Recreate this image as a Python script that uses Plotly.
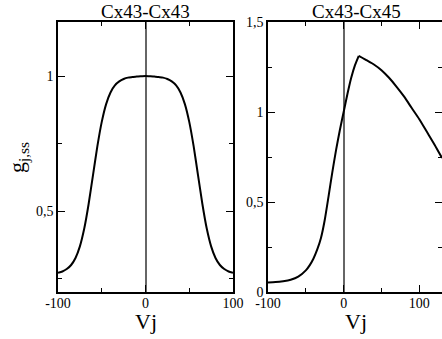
import plotly.graph_objects as go

# Left panel: Cx43-Cx43 steady-state conductance
v_left = [-100, -95, -90, -85, -80, -75, -70, -65, -60, -55, -50, -45, -40, -35, -30, -25, -20, -15, -10, -5,
          0, 5, 10, 15, 20, 25, 30, 35, 40, 45, 50, 55, 60, 65, 70, 75, 80, 85, 90, 95, 100]
g_left = [0.271, 0.276, 0.285, 0.300, 0.326, 0.369, 0.435, 0.526, 0.633, 0.740, 0.830, 0.896, 0.939, 0.965, 0.980,
          0.989, 0.994, 0.996, 0.998, 0.999,
          1.000, 0.999, 0.998, 0.996, 0.994, 0.989, 0.980, 0.965, 0.939, 0.896, 0.830, 0.740, 0.633, 0.526, 0.435,
          0.369, 0.326, 0.300, 0.285, 0.276, 0.271]

# Right panel: Cx43-Cx45 steady-state conductance
v_right = [-100, -90, -80, -70, -60, -50, -45, -40, -35, -30, -25, -20, -15, -10, -5, 0, 5, 10, 15, 20,
           25, 30, 40, 50, 60, 70, 80, 90, 100, 110, 120, 130]
g_right = [0.053, 0.055, 0.060, 0.068, 0.085, 0.120, 0.148, 0.185, 0.235, 0.300, 0.400, 0.530, 0.665, 0.790, 0.900,
           1.000, 1.100, 1.190, 1.260, 1.312,
           1.300, 1.288, 1.264, 1.232, 1.190, 1.140, 1.085, 1.022, 0.960, 0.890, 0.820, 0.745]

titles = ["Cx43-Cx43", "Cx43-Cx45"]
x_label = "Vj"
y_label = "g<sub>j,ss</sub>"

x_tickvals = [-100, 0, 100]
x_ticktext = ["-100", "0", "100"]
y1_tickvals = [0.5, 1]
y1_ticktext = ["0,5", "1"]
y2_tickvals = [0, 0.5, 1, 1.5]
y2_ticktext = ["0", "0,5", "1", "1,5"]

W, H = 442, 339
FONT = "Liberation Serif, Times New Roman, serif"

def px_x(p):
    return p / W

def px_y(p):
    return 1 - p / H

line_style = dict(color="black", width=2, shape="spline", smoothing=0.6)

fig = go.Figure()
fig.add_trace(go.Scatter(x=v_left, y=g_left, mode="lines", line=line_style,
                         xaxis="x", yaxis="y", showlegend=False, hoverinfo="skip"))
# the right curve has a sharp peak: draw the rising and falling branches separately
ipk = g_right.index(max(g_right))
fig.add_trace(go.Scatter(x=v_right[:ipk + 1], y=g_right[:ipk + 1], mode="lines", line=line_style,
                         xaxis="x2", yaxis="y2", showlegend=False, hoverinfo="skip"))
fig.add_trace(go.Scatter(x=v_right[ipk:], y=g_right[ipk:], mode="lines", line=line_style,
                         xaxis="x2", yaxis="y2", showlegend=False, hoverinfo="skip"))

minor_tick = dict(ticks="inside", ticklen=4, tickcolor="black", tickwidth=1.2)

def axis(**kw):
    d = dict(
        showline=True, linecolor="black", linewidth=1.5, mirror="ticks",
        ticks="inside", ticklen=7, tickwidth=1.2, tickcolor="black",
        showgrid=False, automargin=False, tickmode="array",
        tickfont=dict(family=FONT, size=14, color="black"),
        fixedrange=True,
    )
    d.update(kw)
    return d

left_dom = [px_x(58), px_x(233)]
right_dom = [px_x(268), 1.0]
y_dom = [px_y(292), px_y(22)]

fig.update_layout(
    template="none",
    width=W, height=H,
    margin=dict(l=0, r=0, t=0, b=0, pad=0),
    paper_bgcolor="white", plot_bgcolor="white",
    font=dict(family=FONT, color="black"),
    xaxis=axis(domain=left_dom, range=[-100, 100], tickvals=x_tickvals, ticktext=x_ticktext,
               minor=dict(dtick=50, tick0=0, **minor_tick), ticklabelstandoff=-3,
               zeroline=True, zerolinecolor="#666666", zerolinewidth=1.5, anchor="y"),
    yaxis=axis(domain=y_dom, range=[0.2, 1.2], tickvals=y1_tickvals, ticktext=y1_ticktext,
               minor=dict(dtick=0.25, tick0=0, **minor_tick),
               zeroline=False, anchor="x"),
    xaxis2=axis(domain=right_dom, range=[-100, 130], tickvals=x_tickvals, ticktext=x_ticktext,
                minor=dict(dtick=50, tick0=0, **minor_tick), ticklabelstandoff=-3,
                zeroline=True, zerolinecolor="#666666", zerolinewidth=1.5, anchor="y2"),
    yaxis2=axis(domain=y_dom, range=[0, 1.5], tickvals=y2_tickvals, ticktext=y2_ticktext,
                minor=dict(dtick=0.25, tick0=0, **minor_tick),
                zeroline=False, anchor="x2"),
)

annotations = [
    dict(text=titles[0], x=(left_dom[0] + left_dom[1]) / 2, y=px_y(11), xref="paper", yref="paper",
         showarrow=False, xanchor="center", yanchor="middle", font=dict(family=FONT, size=19, color="black")),
    dict(text=titles[1], x=px_x(356), y=px_y(11), xref="paper", yref="paper",
         showarrow=False, xanchor="center", yanchor="middle", font=dict(family=FONT, size=19, color="black")),
    dict(text=x_label, x=(left_dom[0] + left_dom[1]) / 2, y=px_y(321), xref="paper", yref="paper",
         showarrow=False, xanchor="center", yanchor="middle", font=dict(family=FONT, size=22, color="black")),
    dict(text=x_label, x=px_x(356), y=px_y(321), xref="paper", yref="paper",
         showarrow=False, xanchor="center", yanchor="middle", font=dict(family=FONT, size=22, color="black")),
    dict(text=y_label, x=px_x(18), y=px_y(158), xref="paper", yref="paper", textangle=-90,
         showarrow=False, xanchor="center", yanchor="middle", font=dict(family=FONT, size=22, color="black")),
]
fig.update_layout(annotations=annotations)

fig.write_html("out.html", config={"displayModeBar": False},
               post_script="document.body.style.margin='0';document.body.style.overflow='hidden';")
